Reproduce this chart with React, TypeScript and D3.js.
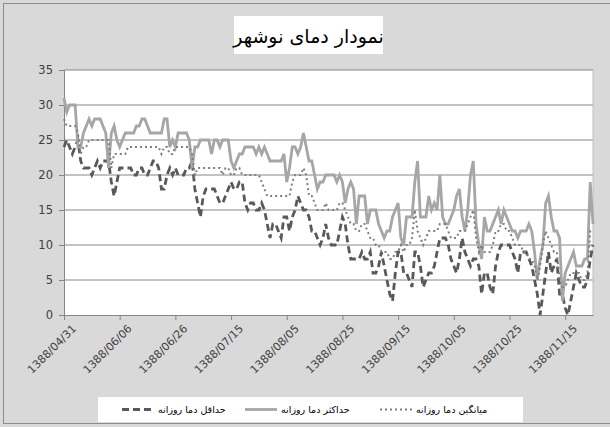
import * as d3 from "d3";
import { useEffect, useRef } from "react";

// daily max temperature (gray solid)
const maxTemp = [
  31, 29, 30, 30, 30, 24, 24, 26, 27, 28, 27, 28, 28, 28, 27, 26, 21, 26, 27, 25,
  24, 25, 26, 26, 26, 26, 27, 27, 28, 28, 27, 26, 26, 26, 26, 26, 28, 28, 24, 25,
  24, 26, 26, 26, 26, 25, 21, 24, 24, 25, 25, 25, 25, 23, 25, 25, 24, 25, 25, 25,
  22, 21, 22, 23, 23, 24, 24, 24, 24, 23, 24, 23, 24, 23, 22, 22, 22, 22, 22, 23,
  19, 21, 24, 24, 23, 24, 26, 24, 22, 22, 20, 18, 19, 19, 20, 20, 20, 20, 19, 20,
  19, 16, 18, 19, 18, 13, 17, 17, 17, 13, 15, 15, 15, 13, 12, 11, 12, 12, 14, 15,
  16, 11, 10, 14, 14, 14, 19, 22, 14, 14, 14, 17, 15, 16, 15, 20, 14, 13, 13, 14,
  15, 17, 18, 14, 12, 15, 20, 22, 13, 10, 8, 14, 12, 12, 13, 14, 15, 13, 15, 14,
  13, 12, 12, 11, 12, 12, 12, 13, 12, 9, 5, 8, 10, 16, 17, 14, 12, 12, 11, 2,
  6, 7, 8, 9, 7, 7, 7, 8, 8, 19, 13,
];

// daily min temperature (dark dashed)
const minTemp = [
  24, 25, 24, 23, 24, 25, 22, 21, 21, 21, 20, 21, 22, 21, 22, 22, 22, 19, 17, 19,
  21, 21, 21, 21, 21, 20, 20, 21, 21, 20, 20, 21, 22, 22, 21, 18, 18, 20, 21, 20,
  21, 20, 20, 20, 21, 21, 22, 18, 16, 14, 17, 18, 18, 18, 18, 17, 16, 16, 17, 18,
  19, 18, 18, 19, 19, 16, 15, 16, 16, 15, 15, 16, 15, 13, 11, 13, 13, 12, 11, 14,
  14, 12, 14, 15, 17, 16, 15, 15, 14, 12, 12, 11, 10, 11, 13, 11, 10, 10, 10, 12,
  14, 13, 10, 8, 8, 8, 8, 9, 8, 8, 9, 6, 6, 7, 9, 7, 5, 3, 2, 6,
  9, 9, 6, 6, 5, 4, 9, 9, 7, 4, 5, 6, 6, 7, 9, 11, 11, 11, 10, 8,
  7, 6, 8, 11, 9, 8, 7, 8, 8, 7, 3, 6, 6, 4, 3, 7, 9, 10, 10, 10,
  10, 9, 8, 6, 9, 9, 9, 8, 7, 5, 3, 0, 3, 6, 9, 6, 7, 8, 3, 3,
  1, 0, 2, 4, 6, 5, 4, 4, 5, 8, 10,
];

// daily mean temperature (dotted)
const avgTemp = [
  28, 27, 27, 27, 27, 26, 23, 24, 24, 25, 25, 25, 25, 25, 25, 25, 25, 21, 23, 23,
  23, 23, 23, 24, 24, 24, 24, 24, 24, 24, 24, 24, 24, 24, 24, 23, 24, 24, 23, 23,
  24, 24, 24, 24, 24, 24, 23, 20, 21, 21, 21, 21, 21, 21, 21, 21, 21, 20, 21, 21,
  20, 20, 21, 21, 20, 20, 20, 20, 20, 20, 20, 19, 18, 17, 17, 17, 17, 17, 17, 17,
  17, 17, 19, 20, 20, 20, 21, 20, 17, 17, 16, 15, 15, 15, 16, 15, 15, 15, 15, 16,
  16, 15, 14, 13, 13, 12, 12, 13, 13, 12, 11, 11, 10, 10, 9, 9, 9, 8, 8, 9,
  9, 10, 9, 10, 10, 11, 15, 12, 11, 10, 11, 12, 12, 12, 12, 13, 13, 13, 12, 11,
  11, 11, 12, 12, 12, 13, 14, 15, 11, 9, 10, 9, 9, 9, 10, 12, 12, 13, 13, 12,
  12, 11, 10, 10, 10, 9, 9, 8, 8, 7, 5, 7, 10, 12, 11, 10, 9, 9, 5, 4,
  4, 5, 6, 6, 6, 6, 5, 5, 6, 12, 12,
];

// one label every 20 days
const tickLabels = [
  "1388/04/31", "1388/06/06", "1388/06/26", "1388/07/15", "1388/08/05",
  "1388/08/25", "1388/09/15", "1388/10/05", "1388/10/25", "1388/11/15",
];
const yTicks = [0, 5, 10, 15, 20, 25, 30, 35];

const series = [
  { name: "حداقل دما روزانه", values: minTemp, color: "#595959", width: 2.8, dash: "7,4" },
  { name: "حداکثر دما روزانه", values: maxTemp, color: "#a6a6a6", width: 2.8, dash: null },
  { name: "میانگین دما روزانه", values: avgTemp, color: "#7f7f7f", width: 2, dash: "2,3" },
];

function App() {
  const ref = useRef<SVGSVGElement>(null);

  useEffect(() => {
    const W = 610, H = 427;
    const margin = { top: 70, right: 17, bottom: 112, left: 64 };
    const width = W - margin.left - margin.right,
      height = H - margin.top - margin.bottom;

    const svg = d3.select(ref.current);
    svg.selectAll("*").remove();

    // chart background
    svg.append("rect").attr("width", W).attr("height", H).attr("fill", "#d9d9d9");
    svg.append("rect")
      .attr("x", 3.5).attr("y", 3.5).attr("width", W).attr("height", H - 7)
      .attr("fill", "none").attr("stroke", "#8c8c8c");

    // title box
    svg.append("rect").attr("x", 234).attr("y", 16).attr("width", 149).attr("height", 38).attr("fill", "#fff");
    svg.append("text")
      .attr("x", 308.5).attr("y", 43)
      .attr("text-anchor", "middle")
      .attr("font-family", "DejaVu Sans, sans-serif")
      .attr("font-size", 19)
      .attr("direction", "rtl")
      .attr("fill", "#000")
      .text("نمودار دمای نوشهر");

    const n = maxTemp.length;
    const x = d3.scaleLinear().domain([0, n - 1]).range([0, width]);
    const y = d3.scaleLinear().domain([0, 35]).range([height, 0]);

    const g = svg.append("g").attr("transform", "translate(" + margin.left + "," + margin.top + ")");

    g.append("rect").attr("width", width).attr("height", height).attr("fill", "#fff");

    // gridlines
    g.selectAll(".grid")
      .data(yTicks.slice(1))
      .enter()
      .append("line")
      .attr("x1", 0).attr("x2", width)
      .attr("y1", (d) => y(d)).attr("y2", (d) => y(d))
      .attr("stroke", "#868686").attr("stroke-width", 1);

    g.append("line").attr("x1", width).attr("x2", width).attr("y1", 0).attr("y2", height)
      .attr("stroke", "#bfbfbf");

    // y axis
    const yAxis = g.append("g").call(
      d3.axisLeft(y).tickValues(yTicks).tickSize(5).tickPadding(6)
    );
    yAxis.select(".domain").attr("stroke", "#868686");
    yAxis.selectAll(".tick line").attr("stroke", "#868686");
    yAxis.selectAll("text")
      .attr("font-family", "DejaVu Sans, sans-serif")
      .attr("font-size", 11.5)
      .attr("fill", "#404040");

    // x axis, tick every 20 categories
    const tickIdx = tickLabels.map((_, i) => i * 20);
    const xAxis = g.append("g")
      .attr("transform", "translate(0," + height + ")")
      .call(
        d3.axisBottom(x)
          .tickValues(tickIdx)
          .tickSize(5)
          .tickSizeOuter(0)
          .tickFormat((d, i) => tickLabels[i])
      );
    xAxis.select(".domain").attr("stroke", "#868686");
    xAxis.selectAll(".tick line").attr("stroke", "#868686");
    xAxis.selectAll("text")
      .attr("font-family", "DejaVu Sans, sans-serif")
      .attr("font-size", 11)
      .attr("fill", "#404040")
      .attr("text-anchor", "end")
      .attr("dy", "0.35em")
      .attr("transform", "translate(4,6) rotate(-45)");

    // series lines
    const line = d3.line<number>()
      .x((d, i) => x(i))
      .y((d) => y(d));

    series.forEach((s) => {
      g.append("path")
        .datum(s.values)
        .attr("fill", "none")
        .attr("stroke", s.color)
        .attr("stroke-width", s.width)
        .attr("stroke-dasharray", s.dash)
        .attr("d", line);
    });

    // legend
    const lg = svg.append("g");
    lg.append("rect").attr("x", 98).attr("y", 397).attr("width", 425).attr("height", 25).attr("fill", "#fff");
    const entries = [122, 245, 380];
    series.forEach((s, i) => {
      const sx = entries[i];
      lg.append("line")
        .attr("x1", sx).attr("x2", sx + 32)
        .attr("y1", 409.5).attr("y2", 409.5)
        .attr("stroke", s.color)
        .attr("stroke-width", s.width)
        .attr("stroke-dasharray", s.dash);
      lg.append("text")
        .attr("x", sx + 36).attr("y", 413)
        .attr("text-anchor", "start")
        .attr("direction", "ltr")
        .attr("font-family", "DejaVu Sans, sans-serif")
        .attr("font-size", 9.5)
        .attr("fill", "#000")
        .text(s.name);
    });
  }, []);

  return (
    <svg
      ref={ref}
      width={610}
      height={427}
      style={{ position: "absolute", left: 0, top: 0 }}
    />
  );
}

export default App;
